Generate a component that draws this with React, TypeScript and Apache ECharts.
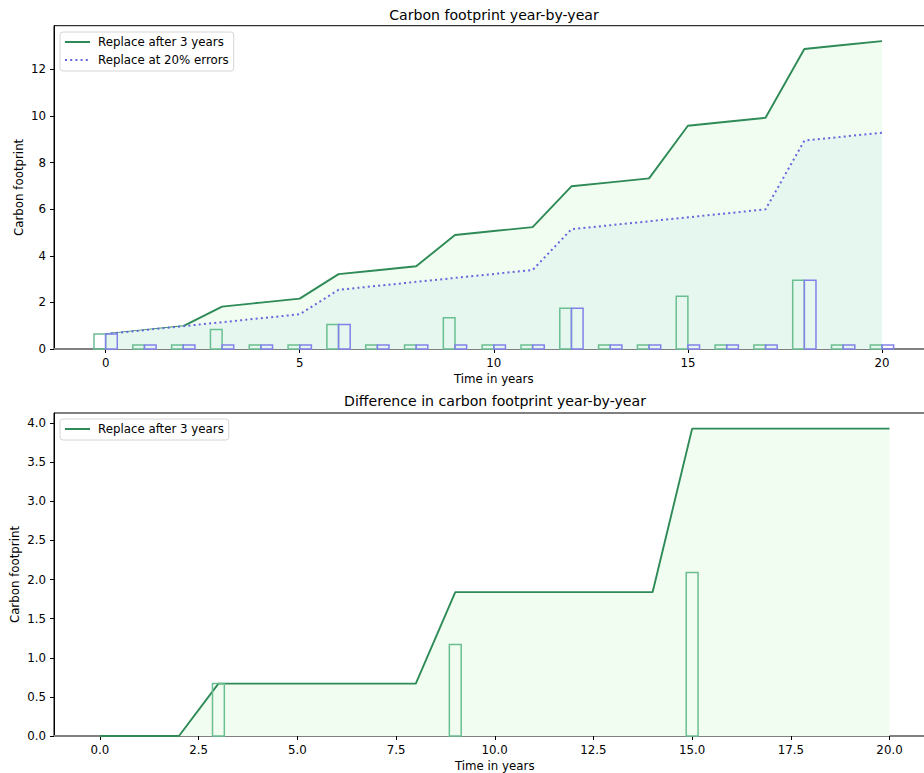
import React, { useEffect, useRef } from "react";
import * as echarts from "echarts";

// Years on the horizontal axis
const years = [0, 1, 2, 3, 4, 5, 6, 7, 8, 9, 10, 11, 12, 13, 14, 15, 16, 17, 18, 19, 20];

// Yearly footprint (bars) for each strategy
const fixedYearly = [0.64, 0.17, 0.17, 0.84, 0.17, 0.17, 1.05, 0.17, 0.17, 1.34, 0.17, 0.17, 1.75, 0.17, 0.17, 2.26, 0.17, 0.17, 2.95, 0.17, 0.17];
const errorYearly = [0.64, 0.17, 0.17, 0.17, 0.17, 0.17, 1.05, 0.17, 0.17, 0.17, 0.17, 0.17, 1.75, 0.17, 0.17, 0.17, 0.17, 0.17, 2.95, 0.17, 0.17];

// Cumulative footprint (lines)
const fixedTotal = [0.64, 0.81, 0.98, 1.82, 1.99, 2.16, 3.21, 3.38, 3.55, 4.89, 5.06, 5.23, 6.98, 7.15, 7.32, 9.58, 9.75, 9.92, 12.87, 13.04, 13.21];
const errorTotal = [0.64, 0.81, 0.98, 1.15, 1.32, 1.49, 2.54, 2.71, 2.88, 3.05, 3.22, 3.39, 5.14, 5.31, 5.48, 5.65, 5.82, 5.99, 8.94, 9.11, 9.28];

// Difference between the two strategies
const diffYearly = [0, 0, 0, 0.67, 0, 0, 0, 0, 0, 1.17, 0, 0, 0, 0, 0, 2.09, 0, 0, 0, 0, 0];
const diffTotal = [0, 0, 0, 0.67, 0.67, 0.67, 0.67, 0.67, 0.67, 1.84, 1.84, 1.84, 1.84, 1.84, 1.84, 3.93, 3.93, 3.93, 3.93, 3.93, 3.93];

// Tick labels
const topXTicks = [0, 5, 10, 15, 20];
const topYTicks = [0, 2, 4, 6, 8, 10, 12];
const bottomXTicks = [0, 2.5, 5, 7.5, 10, 12.5, 15, 17.5, 20];
const bottomYTicks = [0, 0.5, 1, 1.5, 2, 2.5, 3, 3.5, 4];

const NAME_FIXED = "Replace after 3 years";
const NAME_ERRORS = "Replace at 20% errors";

const FONT = "DejaVu Sans";
const FS = 11.8;
const TITLE_FS = 14.1;
const GREEN = "#2e8b57";
const BLUE = "#6666dd";
const GREEN_EDGE = "#6abf91";
const BLUE_EDGE = "#8282ea";

function barRenderer(offset: number, width: number, color: string) {
  return (params: any, api: any) => {
    const x = api.value(0);
    const h = api.value(1);
    if (!h) return null;
    const p0 = api.coord([x + offset - width / 2, h]);
    const p1 = api.coord([x + offset + width / 2, 0]);
    return {
      type: "rect",
      shape: { x: p0[0], y: p0[1], width: p1[0] - p0[0], height: p1[1] - p0[1] },
      style: { fill: "none", stroke: color, lineWidth: 1.5 },
    };
  };
}

function xAxisCfg(gridIndex: number, min: number, max: number, ticks: number[], fmt: (v: number) => string) {
  return {
    type: "value",
    gridIndex,
    min,
    max,
    name: "Time in years",
    nameLocation: "middle",
    nameGap: 24,
    nameMoveOverlap: false,
    nameTextStyle: { fontFamily: FONT, fontSize: FS, color: "#000" },
    axisLine: { show: true, onZero: false, lineStyle: { color: "#808080", width: 2 } },
    axisTick: { show: true, length: 4, customValues: ticks, lineStyle: { color: "#000", width: 1 } },
    axisLabel: { customValues: ticks, margin: 8, fontFamily: FONT, fontSize: FS, color: "#000", formatter: fmt },
    splitLine: { show: false },
  };
}

function yAxisCfg(gridIndex: number, max: number, ticks: number[], fmt: (v: number) => string, gap: number) {
  return {
    type: "value",
    gridIndex,
    min: 0,
    max,
    name: "Carbon footprint",
    nameLocation: "middle",
    nameGap: gap,
    nameMoveOverlap: false,
    nameTextStyle: { fontFamily: FONT, fontSize: FS, color: "#000" },
    axisLine: { show: true, onZero: false, lineStyle: { color: "#000", width: 1 } },
    axisTick: { show: true, length: 4, customValues: ticks, lineStyle: { color: "#000", width: 1 } },
    axisLabel: { customValues: ticks, margin: 8, fontFamily: FONT, fontSize: FS, color: "#000", formatter: fmt },
    splitLine: { show: false },
  };
}

const legendBox = {
  orient: "vertical",
  backgroundColor: "rgba(255,255,255,0.85)",
  borderColor: "#d6d6d6",
  borderWidth: 1,
  borderRadius: 3,
  padding: [4, 5, 5, 4],
  itemWidth: 25,
  itemHeight: 12,
  itemGap: 6,
  selectedMode: false,
  itemStyle: { opacity: 0 },
  textStyle: { fontFamily: FONT, fontSize: FS, color: "#000", padding: [0, 0, 0, 3] },
};

export default function App() {
  const ref = useRef<HTMLDivElement>(null);

  useEffect(() => {
    if (!ref.current) return;
    const chart = echarts.init(ref.current, null, { renderer: "svg" });

    const pairs = (vals: number[]) => years.map((y, i) => [y, vals[i]]);

    chart.setOption({
      animation: false,
      backgroundColor: "#fff",
      title: [
        {
          text: "Carbon footprint year-by-year",
          left: 494,
          top: 8,
          textAlign: "center",
          padding: 0,
          textStyle: { fontFamily: FONT, fontSize: TITLE_FS, fontWeight: "normal", color: "#000" },
        },
        {
          text: "Difference in carbon footprint year-by-year",
          left: 495,
          top: 394,
          textAlign: "center",
          padding: 0,
          textStyle: { fontFamily: FONT, fontSize: TITLE_FS, fontWeight: "normal", color: "#000" },
        },
      ],
      legend: [
        { ...legendBox, left: 60, top: 32, data: [NAME_FIXED, NAME_ERRORS] },
        { ...legendBox, left: 60, top: 419, data: [NAME_FIXED] },
      ],
      grid: [
        { left: 54, top: 25.7, width: 879.6, height: 323.3, show: true, borderColor: "#000", borderWidth: 1, backgroundColor: "transparent" },
        { left: 54, top: 413, width: 881.5, height: 323, show: true, borderColor: "#000", borderWidth: 1, backgroundColor: "transparent" },
      ],
      xAxis: [
        xAxisCfg(0, -1.33, 21.33, topXTicks, (v: number) => String(v)),
        xAxisCfg(1, -1.165, 21.165, bottomXTicks, (v: number) => v.toFixed(1)),
      ],
      yAxis: [
        yAxisCfg(0, 13.87, topYTicks, (v: number) => String(v), 29),
        yAxisCfg(1, 4.13, bottomYTicks, (v: number) => v.toFixed(1), 33),
      ],
      series: [
        {
          name: NAME_FIXED,
          type: "line",
          xAxisIndex: 0,
          yAxisIndex: 0,
          data: pairs(fixedTotal),
          symbol: "none",
          z: 2,
          lineStyle: { color: GREEN, width: 1.9 },
          itemStyle: { color: GREEN, opacity: 0 },
          areaStyle: { color: "#f2fdf2", opacity: 1, origin: "start" },
        },
        {
          name: NAME_ERRORS,
          type: "line",
          xAxisIndex: 0,
          yAxisIndex: 0,
          data: pairs(errorTotal),
          symbol: "none",
          z: 3,
          lineStyle: { color: BLUE, width: 2, type: [2, 3.2], cap: "butt" },
          itemStyle: { color: BLUE, opacity: 0 },
          areaStyle: { color: "#e6f7ef", opacity: 1, origin: "start" },
        },
        {
          name: "fixed-yearly",
          type: "custom",
          xAxisIndex: 0,
          yAxisIndex: 0,
          z: 4,
          data: pairs(fixedYearly),
          encode: { x: 0, y: 1 },
          renderItem: barRenderer(-0.15, 0.3, GREEN_EDGE),
        },
        {
          name: "errors-yearly",
          type: "custom",
          xAxisIndex: 0,
          yAxisIndex: 0,
          z: 4,
          data: pairs(errorYearly),
          encode: { x: 0, y: 1 },
          renderItem: barRenderer(0.15, 0.3, BLUE_EDGE),
        },
        {
          name: NAME_FIXED,
          type: "line",
          xAxisIndex: 1,
          yAxisIndex: 1,
          data: pairs(diffTotal),
          symbol: "none",
          z: 2,
          lineStyle: { color: GREEN, width: 1.9 },
          itemStyle: { color: GREEN, opacity: 0 },
          areaStyle: { color: "#f2fdf2", opacity: 1, origin: "start" },
        },
        {
          name: "diff-yearly",
          type: "custom",
          xAxisIndex: 1,
          yAxisIndex: 1,
          z: 4,
          data: pairs(diffYearly),
          encode: { x: 0, y: 1 },
          renderItem: barRenderer(0, 0.3, GREEN_EDGE),
        },
      ],
    });

    return () => chart.dispose();
  }, []);

  return (
    <div
      ref={ref}
      style={{ position: "fixed", left: 0, top: 0, width: 960, height: 773, background: "#fff" }}
    />
  );
}
